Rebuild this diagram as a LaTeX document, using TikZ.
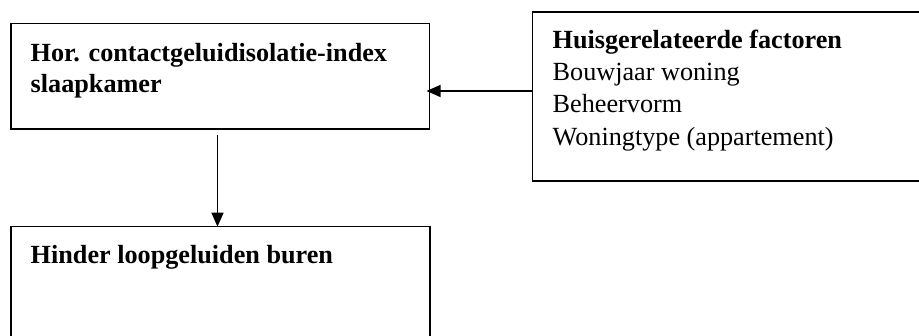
\documentclass[tikz,border=0pt]{standalone}
\usepackage{fontspec}
\setmainfont{Liberation Serif}
\usetikzlibrary{arrows.meta}
\begin{document}
\begin{tikzpicture}[x=1pt,y=-1pt,
  box/.style={draw, line width=1.2pt, inner sep=0pt, outer sep=0pt, anchor=north west},
  lbl/.style={anchor=base west, inner sep=0pt, align=left},
  conn/.style={line width=1.2pt, -{Triangle[length=14pt,width=12pt]}}]
\useasboundingbox (0,0) rectangle (919,335);
% boxes
\node[box, minimum width=418.5pt, minimum height=105.5pt] (a) at (11,23.5) {};
\node[box, minimum width=389pt, minimum height=169pt] (f) at (532.5,12) {};
\node[box, minimum width=419pt, minimum height=111pt] (h) at (11,226.7) {};
% texts (base anchor = baseline of the last line)
\node[lbl, font=\fontsize{26.2}{31}\selectfont\bfseries] (ta) at (30.5,92.7)
  {Hor. contactgeluidisolatie-index\\slaapkamer};
\node[lbl, font=\fontsize{26.2}{32.3}\selectfont] (tf) at (552.5,145.2)
  {\textbf{Huisgerelateerde factoren}\\Bouwjaar woning\\Beheervorm\\Woningtype (appartement)};
\node[lbl, font=\fontsize{26.2}{31}\selectfont\bfseries] (th) at (30.5,263.3)
  {Hinder loopgeluiden buren};
% connectors
\coordinate (s1) at (217.5,135);
\draw[conn] (f.west |- 0,91) -- ([xshift=-3pt]a.east |- 0,91);
\draw[conn] (s1) -- (s1 |- h.north);
\end{tikzpicture}
\end{document}
